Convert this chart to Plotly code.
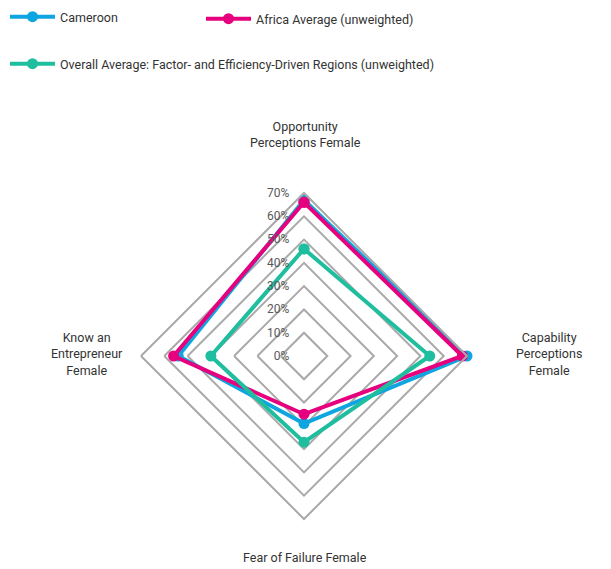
"""Female entrepreneurship perceptions radar: Cameroon vs. regional averages."""

import plotly.graph_objects as go

# Data (percent)
categories = [
    "Opportunity Perceptions Female",
    "Capability Perceptions Female",
    "Fear of Failure Female",
    "Know an Entrepreneur Female",
]
axis_labels = [
    "Opportunity<br>Perceptions Female",
    "Capability<br>Perceptions<br>Female",
    "Fear of Failure Female",
    "Know an<br>Entrepreneur<br>Female",
]
cameroon = [67, 70, 29, 54]
africa_avg = [66, 68, 25, 56]
overall_avg = [46, 54, 37, 40]

series_names = [
    "Cameroon",
    "Africa Average (unweighted)",
    "Overall Average: Factor- and Efficiency-Driven Regions (unweighted)",
]
series_values = [cameroon, africa_avg, overall_avg]
series_colors = ["#0ea5e0", "#e6007e", "#1fbe9e"]
series_legends = ["legend", "legend3", "legend2"]

radial_ticks = [0, 10, 20, 30, 40, 50, 60, 70]

FONT = "Roboto, Liberation Sans Narrow, sans-serif"
GRID = "#a9a9a9"

W, H = 611, 569

fig = go.Figure()

for name, vals, color, leg in zip(series_names, series_values, series_colors, series_legends):
    # close the loop
    fig.add_trace(go.Scatterpolar(
        r=vals + vals[:1],
        theta=categories + categories[:1],
        mode="lines+markers",
        name=name,
        legend=leg,
        line=dict(color=color, width=4),
        marker=dict(color=color, size=11),
    ))

# polar area placement (pixels -> paper)
cx, cy, rad = 304, 356, 163
dom_x = [(cx - rad) / W, (cx + rad) / W]
dom_y = [(H - cy - rad) / H, (H - cy + rad) / H]

# category labels placed outside the web
label_pos = [(305, 135), (549, 354), (305, 557), (87, 354)]
annotations = []
for text, (px, py) in zip(axis_labels, label_pos):
    annotations.append(dict(
        x=px / W, y=1 - py / H, xref="paper", yref="paper",
        text=text, showarrow=False, align="center",
        xanchor="center", yanchor="middle",
        font=dict(family=FONT, size=12.5, color="#333333"),
    ))

legend_style = dict(
    orientation="h",
    xanchor="left", yanchor="top",
    itemwidth=45,
    font=dict(family=FONT, size=12.5, color="#333333"),
    bgcolor="rgba(0,0,0,0)",
)

fig.update_layout(
    width=W,
    height=H,
    margin=dict(l=0, r=0, t=0, b=0),
    paper_bgcolor="white",
    plot_bgcolor="white",
    font=dict(family=FONT, size=12.5, color="#333333"),
    polar=dict(
        domain=dict(x=dom_x, y=dom_y),
        bgcolor="white",
        gridshape="linear",
        radialaxis=dict(
            range=[0, 70],
            tickvals=radial_ticks,
            ticktext=[f"{t}%" for t in radial_ticks],
            angle=90,
            side="counterclockwise",
            tickangle=90,
            showline=False,
            ticks="outside",
            ticklen=10,
            tickcolor="rgba(0,0,0,0)",
            gridcolor=GRID,
            gridwidth=2,
            tickfont=dict(family=FONT, size=12, color="#595959"),
        ),
        angularaxis=dict(
            rotation=90,
            direction="clockwise",
            showgrid=False,
            showticklabels=False,
            ticks="",
            showline=True,
            linecolor=GRID,
            linewidth=2,
        ),
    ),
    legend=dict(x=5 / W, y=1 - 2 / H, **legend_style),
    legend3=dict(x=201 / W, y=1 - 4 / H, **legend_style),
    legend2=dict(x=5 / W, y=1 - 49 / H, **legend_style),
    annotations=annotations,
    showlegend=True,
)

fig.write_html(
    "out.html",
    config={"displayModeBar": False},
    post_script="document.body.style.margin='0';",
)
